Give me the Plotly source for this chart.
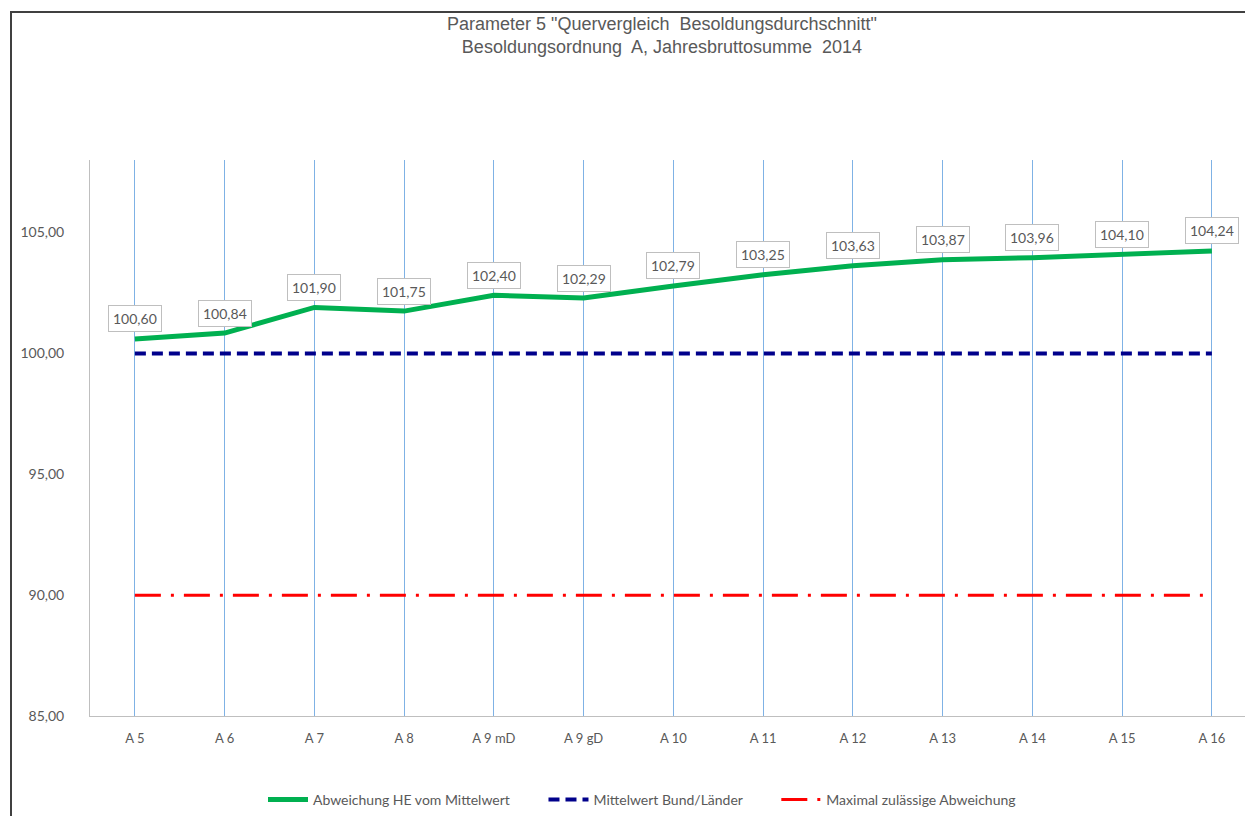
import plotly.graph_objects as go

categories = ["A 5", "A 6", "A 7", "A 8", "A 9 mD", "A 9 gD", "A 10", "A 11",
              "A 12", "A 13", "A 14", "A 15", "A 16"]
abweichung = [100.60, 100.84, 101.90, 101.75, 102.40, 102.29, 102.79, 103.25,
              103.63, 103.87, 103.96, 104.10, 104.24]
mittelwert = [100.00] * len(categories)
maximal = [90.00] * len(categories)
y_ticks = [85, 90, 95, 100, 105]

OFF = 8  # browser body margin
W, H = 1253 - OFF, 816 - OFF
ML, MR, MT, MB = 90 - OFF, 0, 160 - OFF, 100
pw = W - ML - MR
ph = H - MT - MB

def px_x(x):
    return (x - OFF - ML) / pw

def px_y(y):
    return (H - MB - (y - OFF)) / ph

pad = "\u00a0" * 8
fig = go.Figure()
fig.add_trace(go.Scatter(x=categories, y=abweichung, mode="lines",
                         name="Abweichung HE vom Mittelwert" + pad,
                         line=dict(color="#00B050", width=5)))
fig.add_trace(go.Scatter(x=categories, y=mittelwert, mode="lines",
                         name="Mittelwert Bund/Länder" + pad,
                         line=dict(color="#00008B", width=4, dash="11px,6px")))
fig.add_trace(go.Scatter(x=categories, y=maximal, mode="lines",
                         name="Maximal zulässige Abweichung",
                         line=dict(color="#FF0000", width=3, dash="26px,10px,3px,10px")))

for c, v in zip(categories, abweichung):
    fig.add_annotation(x=c, y=v, text=f"{v:.2f}".replace(".", ","),
                       showarrow=False, yshift=20,
                       bgcolor="white", bordercolor="#BFBFBF", borderwidth=1,
                       borderpad=4,
                       font=dict(family="Lato, sans-serif", size=14, color="#595959"))

fig.add_annotation(xref="paper", yref="paper", x=px_x(662), y=px_y(35),
                   text="Parameter 5 \"Quervergleich\u00a0 Besoldungsdurchschnitt\"<br>"
                        "Besoldungsordnung\u00a0 A, Jahresbruttosumme\u00a0 2014",
                   showarrow=False, xanchor="center", yanchor="middle",
                   font=dict(family="Liberation Sans, Arial, sans-serif", size=18,
                             color="#595959"))

fig.add_shape(type="rect", xref="paper", yref="paper",
              x0=px_x(11), x1=px_x(1300), y0=px_y(12), y1=px_y(900),
              line=dict(color="#404040", width=2), fillcolor="rgba(0,0,0,0)")

n = len(categories)
fig.update_layout(
    width=W, height=H,
    margin=dict(l=ML, r=MR, t=MT, b=MB),
    plot_bgcolor="white", paper_bgcolor="white",
    separators=",.",
    showlegend=True,
    legend=dict(orientation="h", x=px_x(642), xanchor="center",
                y=px_y(800), yanchor="middle",
                font=dict(family="Lato, sans-serif", size=14, color="#595959"),
                itemwidth=40, tracegroupgap=0),
    xaxis=dict(type="category", range=[-0.5, -0.5 + pw / ((1212 - 135) / (n - 1))],
               showgrid=True, gridcolor="#7FB2E5", gridwidth=1,
               showline=True, linecolor="#BFBFBF", linewidth=1,
               ticks="", ticklabelstandoff=10,
               tickfont=dict(family="Lato, sans-serif", size=13, color="#595959"),
               zeroline=False),
    yaxis=dict(range=[85, 108], tickvals=y_ticks, tickformat=".2f",
               showgrid=False, zeroline=False,
               showline=True, linecolor="#BFBFBF", linewidth=1,
               ticks="", ticklabelstandoff=22,
               tickfont=dict(family="Lato, sans-serif", size=14, color="#595959")),
)

fig.write_html("out.html")
